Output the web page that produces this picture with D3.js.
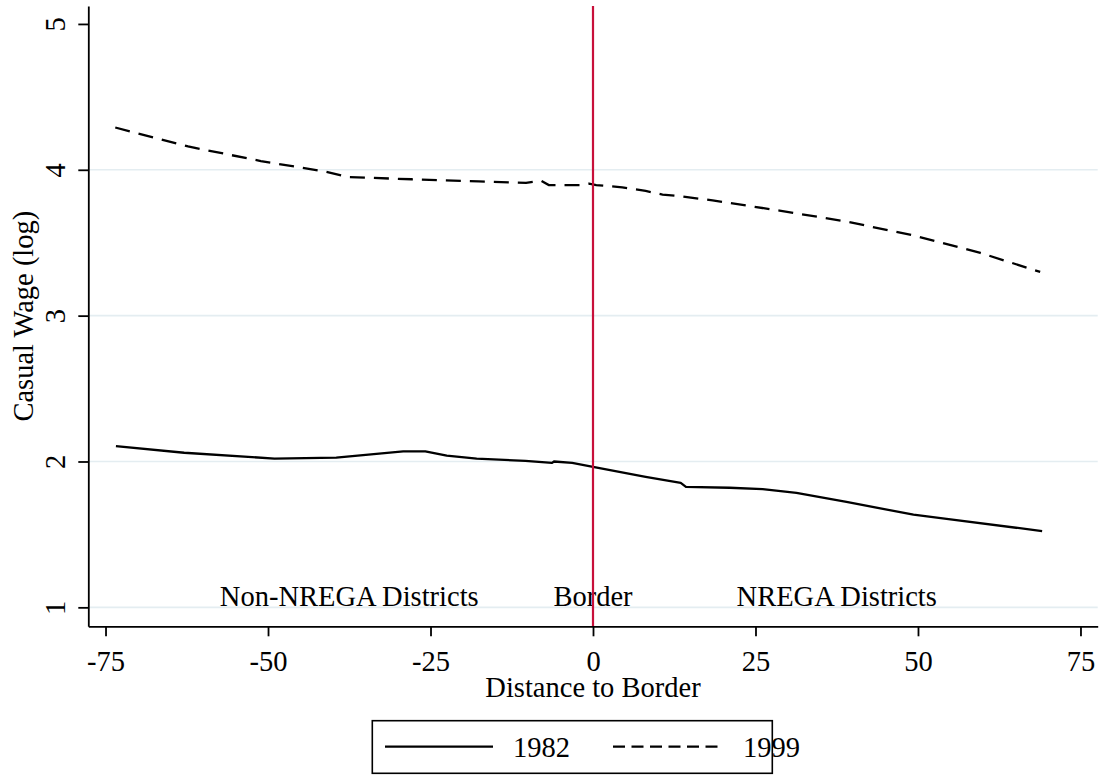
<!DOCTYPE html>
<html>
<head>
<meta charset="utf-8">
<script src="https://cdn.jsdelivr.net/npm/d3@7"></script>
<style>
  html, body { margin: 0; padding: 0; background: #fff; }
  svg { display: block; }
  text { font-family: "Liberation Serif", "Times New Roman", serif; fill: #000; }
</style>
</head>
<body>
<svg id="chart" width="1101" height="775"></svg>
<script>
// ---- data ----
const xTicks = [-75, -50, -25, 0, 25, 50, 75];
const yTicks = [1, 2, 3, 4, 5];
const gridValues = [1, 2, 3, 4];

const dist1982 = [-73.4, -62.9, -49, -39.5, -29.2, -25.8, -22.5, -17.9, -10.4, -6.3, -6.0, -3.2, 0, 8.1, 13.5, 14.3, 21, 26.1, 31.3, 39, 49.3, 54.4, 69.1];
const wage1982 = [2.105, 2.06, 2.02, 2.027, 2.07, 2.07, 2.04, 2.02, 2.004, 1.99, 2.0, 1.99, 1.963, 1.895, 1.853, 1.826, 1.82, 1.81, 1.785, 1.723, 1.635, 1.607, 1.523];

const dist1999 = [-73.5, -62.3, -51.1, -41.5, -37.6, -27.9, -17.6, -10.3, -8.0, -6.8, -2.0, -0.6, 0.5, 4.5, 8.1, 10.7, 13.3, 18.4, 28.7, 39, 49.3, 59.6, 68.8];
const wage1999 = [4.29, 4.16, 4.06, 3.99, 3.95, 3.935, 3.92, 3.91, 3.925, 3.895, 3.895, 3.905, 3.895, 3.88, 3.855, 3.83, 3.82, 3.79, 3.72, 3.645, 3.55, 3.43, 3.30];

const seriesNames = ["1982", "1999"];
const annotations = ["Non-NREGA Districts", "Border", "NREGA Districts"];
const annotationX = [-37.5, 0, 37.5];
const borderX = 0;

const xTitle = "Distance to Border";
const yTitle = "Casual Wage (log)";

// ---- layout ----
const FS = 28.5;
const svg = d3.select("#chart");
svg.append("rect").attr("width", 1101).attr("height", 775).attr("fill", "#fff");

const x = d3.scaleLinear().domain([-77.65, 77.65]).range([88.3, 1097.7]);
const y = d3.scaleLinear().domain([0.87, 5.123]).range([626.3, 6]);

// gridlines
svg.append("g").selectAll("line").data(gridValues).join("line")
  .attr("x1", x.range()[0]).attr("x2", x.range()[1])
  .attr("y1", d => y(d)).attr("y2", d => y(d))
  .attr("stroke", "#e4edf1").attr("stroke-width", 1.6);

// lines
const mk = (ds, vs) => ds.map((d, i) => [d, vs[i]]);
const line = d3.line().x(d => x(d[0])).y(d => y(d[1]));

svg.append("path").datum(mk(dist1982, wage1982))
  .attr("d", line).attr("fill", "none").attr("stroke", "#000")
  .attr("stroke-width", 2.3).attr("stroke-linejoin", "round");

svg.append("path").datum(mk(dist1999, wage1999))
  .attr("d", line).attr("fill", "none").attr("stroke", "#000")
  .attr("stroke-width", 2.3).attr("stroke-dasharray", "15,9");

// annotations
svg.append("g").selectAll("text").data(annotations).join("text")
  .attr("x", (d, i) => x(annotationX[i]))
  .attr("y", y(1) - 1.5)
  .attr("text-anchor", "middle")
  .attr("font-size", FS)
  .text(d => d);

// border line
svg.append("line")
  .attr("x1", x(borderX)).attr("x2", x(borderX))
  .attr("y1", y.range()[1]).attr("y2", y.range()[0])
  .attr("stroke", "#c8103a").attr("stroke-width", 2.2);

// x axis
const gx = svg.append("g").attr("transform", `translate(0,${y.range()[0]})`)
  .call(d3.axisBottom(x).tickValues(xTicks).tickSize(10).tickSizeOuter(0).tickPadding(14).tickFormat(d3.format("d")));
gx.select(".domain").attr("stroke", "#000").attr("stroke-width", 1.8);
gx.selectAll(".tick line").attr("stroke", "#000").attr("stroke-width", 1.8);
gx.selectAll(".tick text").attr("font-size", FS).attr("font-family", "Liberation Serif, Times New Roman, serif")
  .attr("y", 44.5).attr("dy", 0).text(d => d < 0 ? "-" + Math.abs(d) : d);

// y axis
const gy = svg.append("g").attr("transform", `translate(${x.range()[0]},0)`)
  .call(d3.axisLeft(y).tickValues(yTicks).tickSize(10).tickSizeOuter(0).tickFormat(d3.format("d")));
gy.select(".domain").attr("stroke", "#000").attr("stroke-width", 1.8);
gy.selectAll(".tick line").attr("stroke", "#000").attr("stroke-width", 1.8);
gy.selectAll(".tick text").attr("font-size", FS).attr("font-family", "Liberation Serif, Times New Roman, serif")
  .attr("transform", "rotate(-90)").attr("x", 0).attr("y", -23.3).attr("dy", 0)
  .attr("text-anchor", "middle");

// axis titles
svg.append("text").attr("x", (x.range()[0] + x.range()[1]) / 2).attr("y", 697)
  .attr("text-anchor", "middle").attr("font-size", FS).text(xTitle);
svg.append("text")
  .attr("transform", `translate(33,${(y.range()[0] + y.range()[1]) / 2}) rotate(-90)`)
  .attr("text-anchor", "middle").attr("font-size", FS).text(yTitle);

// legend
const lg = svg.append("g");
lg.append("rect").attr("x", 372.3).attr("y", 720.7).attr("width", 400).attr("height", 52.6)
  .attr("fill", "#fff").attr("stroke", "#000").attr("stroke-width", 1.6);
const legendItems = [
  { name: seriesNames[0], dash: null, x0: 385, x1: 493, tx: 513 },
  { name: seriesNames[1], dash: "12,6.5", x0: 613, x1: 723, tx: 743 }
];
legendItems.forEach(it => {
  lg.append("line").attr("x1", it.x0).attr("x2", it.x1).attr("y1", 746.7).attr("y2", 746.7)
    .attr("stroke", "#000").attr("stroke-width", 2.3).attr("stroke-dasharray", it.dash);
  lg.append("text").attr("x", it.tx).attr("y", 756.5).attr("font-size", FS).text(it.name);
});
</script>
</body>
</html>
